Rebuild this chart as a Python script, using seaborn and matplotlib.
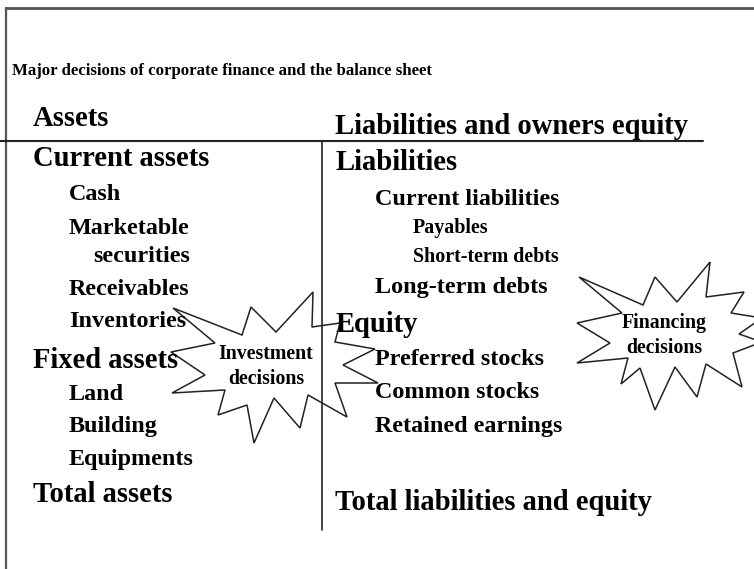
import matplotlib
matplotlib.use("Agg")
import matplotlib.pyplot as plt
import seaborn as sns
import pandas as pd
from matplotlib.patches import Polygon

# ---- content (text) ----
title = "Major decisions of corporate finance and the balance sheet"
left_labels = ["Assets", "Current assets", "Cash", "Marketable", "securities",
               "Receivables", "Inventories", "Fixed assets", "Land", "Building",
               "Equipments", "Total assets"]
left_levels = [0, 0, 1, 1, 2, 1, 1, 0, 1, 1, 1, 0]
right_labels = ["Liabilities and owners equity", "Liabilities", "Current liabilities",
                "Payables", "Short-term debts", "Long-term debts", "Equity",
                "Preferred stocks", "Common stocks", "Retained earnings",
                "Total liabilities and equity"]
right_levels = [0, 0, 1, 2, 2, 1, 0, 1, 1, 1, 0]
burst_labels = [["Investment", "decisions"], ["Financing", "decisions"]]

# ---- layout (pixel coordinates) ----
W, H = 754, 569
left_base = [126, 166, 200, 234, 262, 295, 327, 368, 400, 432, 465, 502]
right_base = [134, 170, 205, 233, 262, 293, 332, 365, 398, 432, 510]
left_x = {0: 33, 1: 69, 2: 93}
right_x = {0: 335, 1: 375, 2: 413}
left_size = {0: 20.6, 1: 17.4, 2: 17.4}
right_size = {0: 20.6, 1: 17.4, 2: 14.4}

invest_burst = [(313, 292), (312, 327), (340, 323), (335, 342), (375, 349),
                (343, 365), (378, 383), (335, 383), (347, 417), (308, 395),
                (300, 428), (274, 398), (254, 443), (247, 405), (218, 415),
                (225, 390), (172, 393), (205, 375), (171, 352), (215, 343),
                (173, 308), (242, 335), (251, 307), (276, 332)]
finance_burst = [(710, 262), (706, 297), (744, 292), (731, 313), (762, 318),
                 (739, 334), (762, 342), (733, 353), (742, 387), (706, 364),
                 (697, 397), (675, 367), (655, 410), (640, 368), (621, 384),
                 (628, 358), (577, 363), (610, 343), (577, 323), (622, 313),
                 (579, 277), (643, 305), (655, 277), (677, 302)]

sns.set_theme(style="white")
plt.rcParams["font.family"] = ["Liberation Serif", "DejaVu Serif"]

fig = plt.figure(figsize=(W / 100, H / 100), dpi=100)
ax = fig.add_axes([0, 0, 1, 1])

# T-account rules and frame
rules = pd.DataFrame({
    "x": [6, W, 6, 6, 0, 703, 322, 322],
    "y": [8, 8, 8, H, 141, 141, 141, 530],
    "seg": ["top", "top", "left", "left", "hor", "hor", "ver", "ver"],
})
for seg, lw, col in [("top", 2.0, "#555555"), ("left", 1.6, "#555555"),
                     ("hor", 1.5, "#222222"), ("ver", 1.2, "#222222")]:
    d = rules[rules.seg == seg]
    sns.lineplot(data=d, x="x", y="y", ax=ax, color=col, linewidth=lw,
                 sort=False, estimator=None, legend=False)
ax.set_xlim(0, W)
ax.set_ylim(H, 0)
ax.axis("off")

ax.text(12, 75, title, fontsize=12.1, fontweight="bold", va="baseline", ha="left", color="black")

for lab, lev, yb in zip(left_labels, left_levels, left_base):
    ax.text(left_x[lev], yb, lab, fontsize=left_size[lev], fontweight="bold",
            va="baseline", ha="left", color="black")
for lab, lev, yb in zip(right_labels, right_levels, right_base):
    ax.text(right_x[lev], yb, lab, fontsize=right_size[lev], fontweight="bold",
            va="baseline", ha="left", color="black")

for pts in (invest_burst, finance_burst):
    ax.add_patch(Polygon(pts, closed=True, fill=False, edgecolor="#222222",
                         linewidth=1.1, joinstyle="miter", clip_on=True))

for (l1, l2), cx, yb in zip(burst_labels, [266, 664], [359, 328]):
    ax.text(cx, yb, l1, fontsize=14.3, fontweight="bold", ha="center", va="baseline", color="black")
    ax.text(cx, yb + 25, l2, fontsize=14.3, fontweight="bold", ha="center", va="baseline", color="black")

fig.savefig("out.png", dpi=100)
